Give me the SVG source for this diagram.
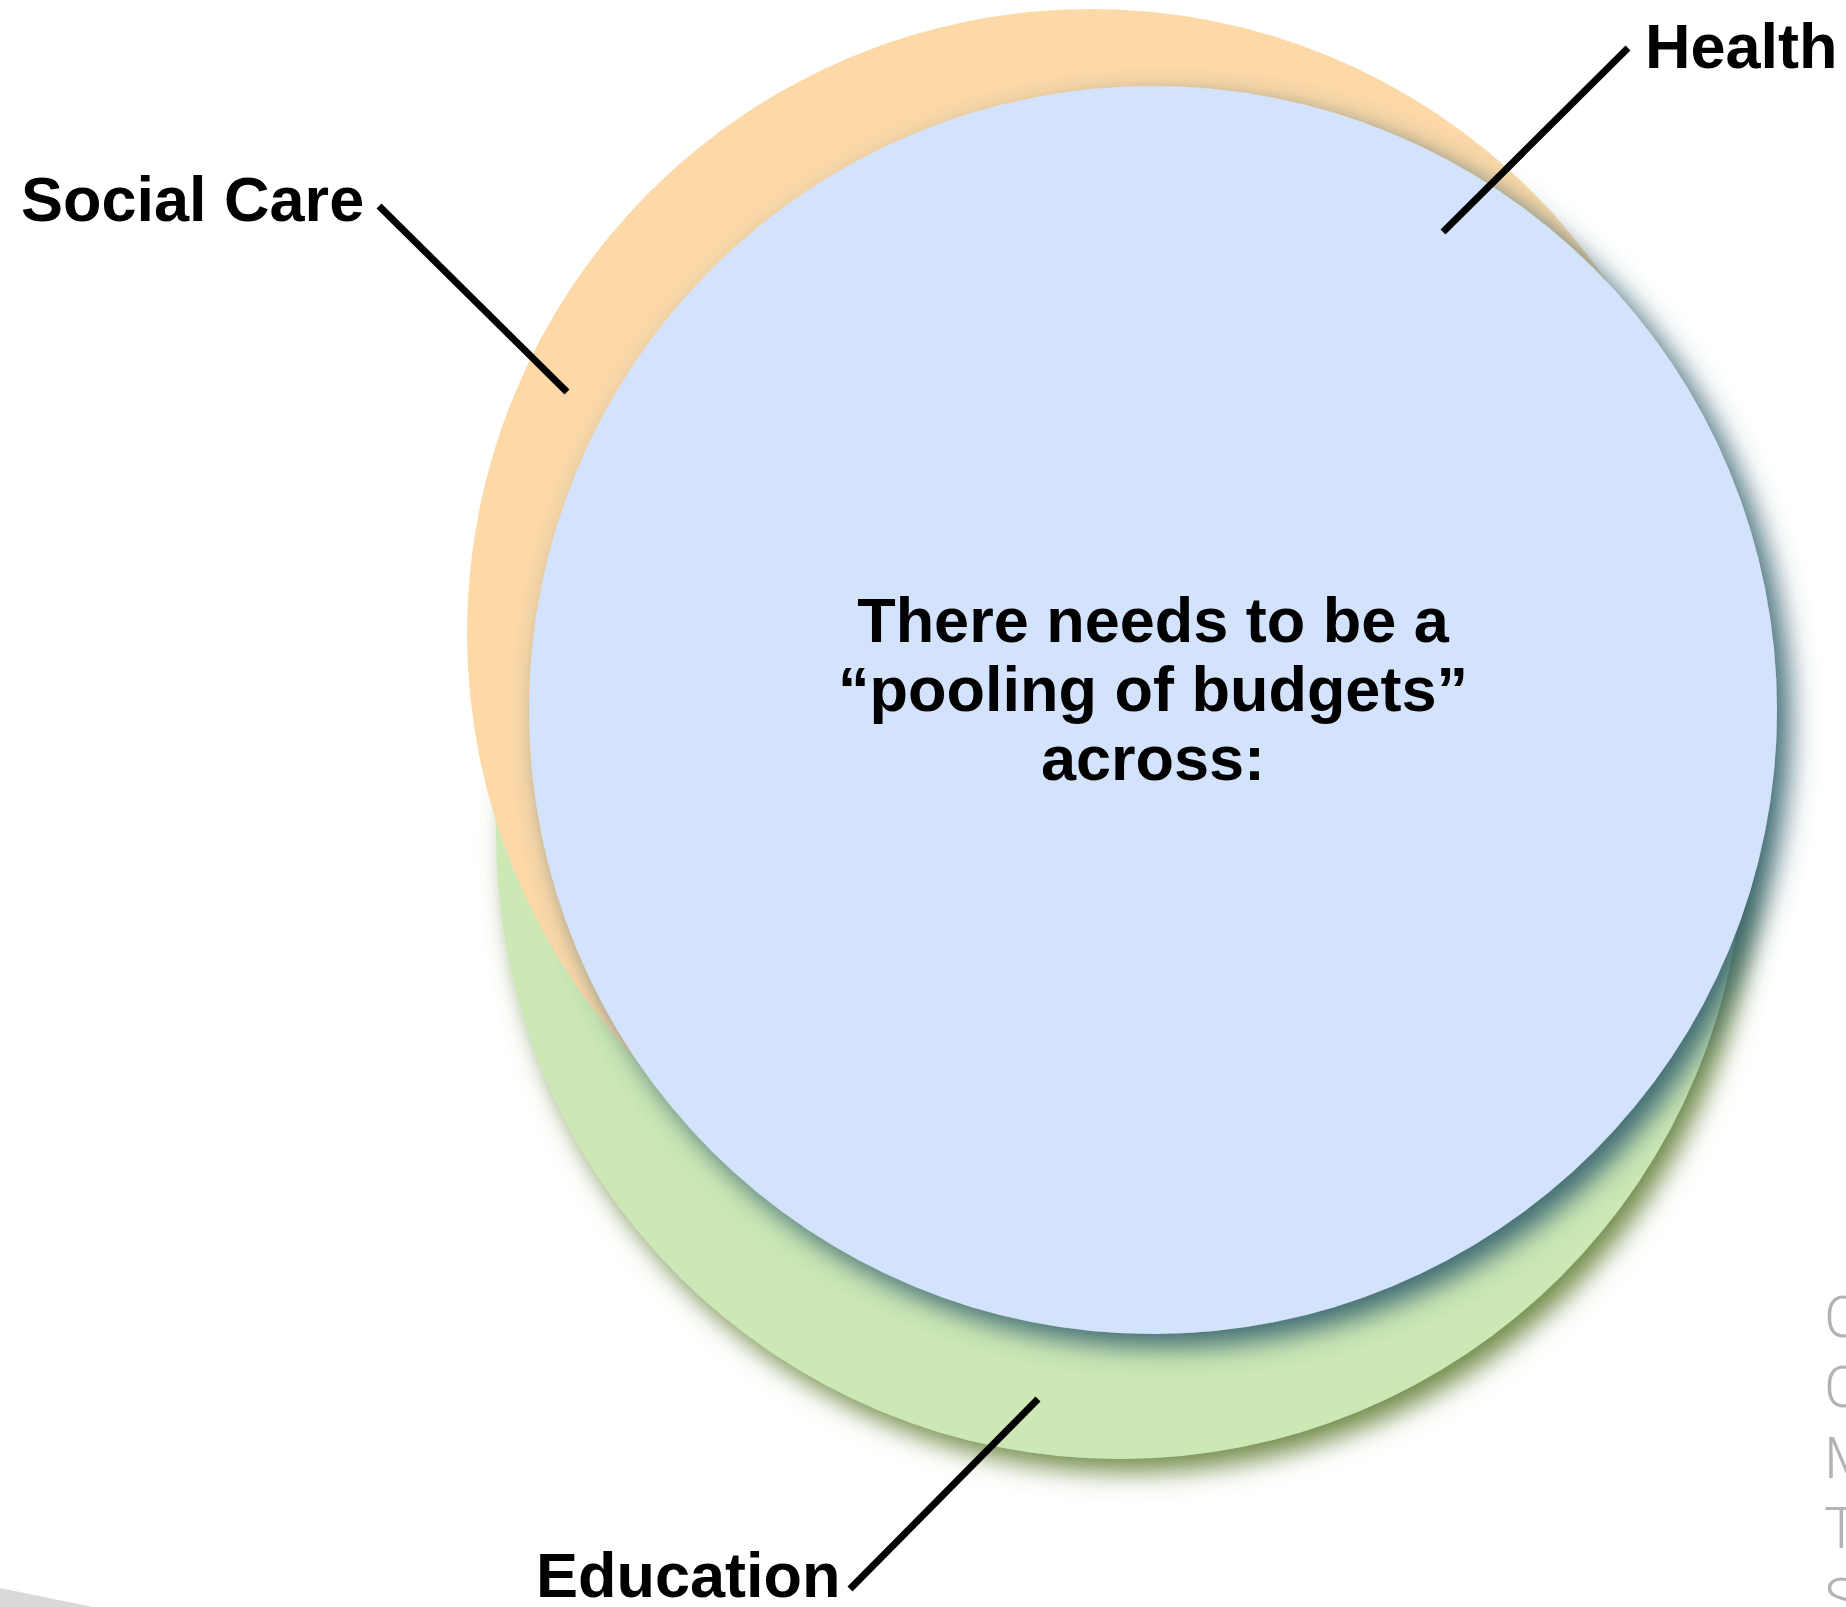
<svg xmlns="http://www.w3.org/2000/svg" width="1846" height="1607" viewBox="0 0 1846 1607">
<style>
.lbl{font-family:"Liberation Sans",Arial,sans-serif;font-weight:bold;font-size:63px;fill:#000}
.ctr{font-family:"Liberation Sans",Arial,sans-serif;font-weight:bold;font-size:63px;fill:#000;text-anchor:middle}
.side{font-family:Roboto,"Open Sans","Liberation Sans",sans-serif;font-weight:300;font-size:58px;fill:#b3b3b3}
.conn{stroke:#000;stroke-width:7;fill:none}
</style>
<defs>
<filter id="shB" x="-10%" y="-10%" width="125%" height="125%">
<feGaussianBlur in="SourceAlpha" stdDeviation="14"/>
<feOffset dx="13" dy="13" result="b"/>
<feFlood flood-color="#36636f" flood-opacity="0.95"/>
<feComposite in2="b" operator="in"/>
<feMerge><feMergeNode/><feMergeNode in="SourceGraphic"/></feMerge>
</filter>
<filter id="shG" x="-10%" y="-10%" width="125%" height="125%">
<feGaussianBlur in="SourceAlpha" stdDeviation="13"/>
<feOffset dx="11" dy="13" result="b"/>
<feFlood flood-color="#637f36" flood-opacity="0.9"/>
<feComposite in2="b" operator="in"/>
<feMerge><feMergeNode/><feMergeNode in="SourceGraphic"/></feMerge>
</filter>
</defs>
<rect width="1846" height="1607" fill="#fff"/>
<polygon points="0,1588 93,1607 0,1607" fill="#d9d9d9"/>
<g id="education-circle"><circle cx="1120" cy="835" r="624" fill="#cce8b5" filter="url(#shG)"/></g>
<g id="socialcare-circle"><circle cx="1091" cy="633" r="624" fill="#fdd9a8"/></g>
<g id="health-circle"><circle cx="1153" cy="710" r="624" fill="#d3e3fc" filter="url(#shB)"/>
<text class="ctr" x="1153" y="642">There needs to be a</text>
<text class="ctr" x="1153" y="711">“pooling of budgets”</text>
<text class="ctr" x="1153" y="780">across:</text>
</g>
<g id="connectors">
<line class="conn" x1="1628" y1="48" x2="1443" y2="232"/>
<line class="conn" x1="379" y1="206" x2="567" y2="392"/>
<line class="conn" x1="850" y1="1589" x2="1038" y2="1399"/>
</g>
<g id="label-health"><text class="lbl" x="1645" y="68">Health</text></g>
<g id="label-socialcare"><text class="lbl" x="21" y="221">Social Care</text></g>
<g id="label-education"><text class="lbl" x="536" y="1597">Education</text></g>
<g id="side-text">
<text class="side" x="1824" y="1337">C</text>
<text class="side" x="1824" y="1407">C</text>
<text class="side" x="1824" y="1478">M</text>
<text class="side" x="1824" y="1548">T</text>
<text class="side" x="1824" y="1619">S</text>
</g>
</svg>
